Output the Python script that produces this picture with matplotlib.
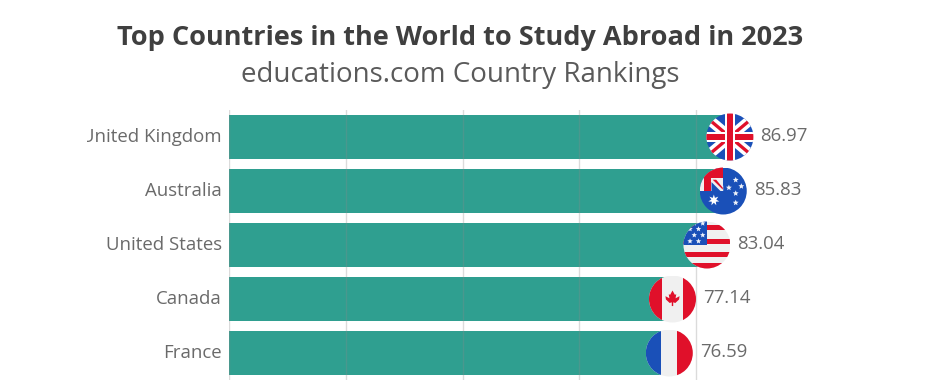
import matplotlib
matplotlib.use('Agg')
import matplotlib.pyplot as plt
from matplotlib.patches import Circle, Rectangle, Polygon
from matplotlib.transforms import Affine2D, Bbox
import numpy as np

countries = ['United Kingdom', 'Australia', 'United States', 'Canada', 'France']
scores = [86.97, 85.83, 83.04, 77.14, 76.59]
x_ticks = [0, 20, 40, 60, 80]

W, H = 945, 388
LEFT, RIGHT, TOP, BOTTOM = 229, 754.6, 110, 380
R = 23.5
RED = '#e0102a'
BLUE = '#1a50b8'
LIGHT = '#f0f0f0'

plt.rcParams['font.family'] = ['Open Sans', 'DejaVu Sans']


# Adds one shape of a flag, in units of the flag radius
def add_part(ax, t, clip, patch):
    patch.set_transform(t)
    patch.set_clip_path(clip)
    patch.set_zorder(5)
    patch.set_linewidth(0)
    ax.add_patch(patch)


def cross_bar(ax, t, clip, angle, width, color):
    rot = Affine2D().rotate_deg(angle) + t
    add_part(ax, rot, clip, Rectangle((-1.5, -width / 2), 3, width, color=color))


def star(cx, cy, r, n=5):
    pts = []
    for k in range(2 * n):
        rr = r if k % 2 == 0 else r * 0.45
        a = np.pi / 2 + k * np.pi / n
        pts.append((cx + rr * np.cos(a), cy + rr * np.sin(a)))
    return pts


def flag_uk(ax, t, clip):
    add_part(ax, t, clip, Rectangle((-1, -1), 2, 2, color=BLUE))
    for a in [40, -40]:
        cross_bar(ax, t, clip, a, 0.44, 'white')
        cross_bar(ax, t, clip, a, 0.14, RED)
    for a in [0, 90]:
        cross_bar(ax, t, clip, a, 0.40, 'white')
        cross_bar(ax, t, clip, a, 0.27, RED)


def flag_au(ax, t, clip):
    add_part(ax, t, clip, Rectangle((-1, -1), 2, 2, color=BLUE))
    # canton
    add_part(ax, t, clip, Rectangle((-1, 0), 1, 1, color=LIGHT))
    add_part(ax, t, clip, Rectangle((-1, 0.55), 1, 0.5, color=RED))
    add_part(ax, t, clip, Rectangle((-0.8, 0), 0.3, 1, color=RED))
    add_part(ax, t, clip, Polygon([(-0.5, 0.55), (-0.25, 0.55), (0, 0.22), (0, 0)], color=LIGHT))
    add_part(ax, t, clip, Polygon([(-0.45, 0.48), (-0.3, 0.48), (-0.02, 0.14), (-0.02, 0.06)], color=RED))
    add_part(ax, t, clip, Polygon([(-0.5, 0), (-0.5, 0.38), (-0.12, 0)], color=BLUE))
    add_part(ax, t, clip, Polygon(star(-0.4, -0.39, 0.24, 7), color='white'))
    for sx, sy in [(0.53, 0.47), (0.77, 0.2), (0.24, 0.14), (0.53, -0.1), (0.53, -0.5)]:
        add_part(ax, t, clip, Polygon(star(sx, sy, 0.13, 5), color='#eef2fa'))


def flag_us(ax, t, clip):
    add_part(ax, t, clip, Rectangle((-1, -1), 2, 2, color=LIGHT))
    for yc in [0.76, 0.16, -0.39, -0.89]:
        add_part(ax, t, clip, Rectangle((-1, yc - 0.11), 2, 0.22, color=RED))
    add_part(ax, t, clip, Rectangle((-1, -0.02), 1.0, 1.05, color=BLUE))
    for sx, sy in [(-0.72, 0.16), (-0.36, 0.16), (-0.54, 0.42), (-0.18, 0.42),
                   (-0.72, 0.68), (-0.36, 0.68), (-0.54, 0.92), (-0.18, 0.92)]:
        add_part(ax, t, clip, Polygon(star(sx, sy, 0.12, 5), color='#eef2fa'))


def flag_ca(ax, t, clip):
    add_part(ax, t, clip, Rectangle((-1, -1), 2, 2, color=LIGHT))
    add_part(ax, t, clip, Rectangle((-1, -1), 0.57, 2, color=RED))
    add_part(ax, t, clip, Rectangle((0.45, -1), 0.55, 2, color=RED))
    leaf = [(0, 0.36), (0.1, 0.18), (0.16, 0.2), (0.13, 0.03), (0.3, 0.12), (0.28, -0.02),
            (0.12, -0.17), (0.03, -0.14), (0.03, -0.3), (-0.03, -0.3), (-0.03, -0.14),
            (-0.12, -0.17), (-0.28, -0.02), (-0.3, 0.12), (-0.13, 0.03), (-0.16, 0.2), (-0.1, 0.18)]
    add_part(ax, t, clip, Polygon(leaf, color=RED))


def flag_fr(ax, t, clip):
    add_part(ax, t, clip, Rectangle((-1, -1), 2, 2, color=LIGHT))
    add_part(ax, t, clip, Rectangle((-1, -1), 0.66, 2, color=BLUE))
    add_part(ax, t, clip, Rectangle((0.34, -1), 0.66, 2, color=RED))


flag_funcs = [flag_uk, flag_au, flag_us, flag_ca, flag_fr]

fig = plt.figure(figsize=(W / 100, H / 100), dpi=100)
ax = fig.add_axes([LEFT / W, 1 - BOTTOM / H, (RIGHT - LEFT) / W, (BOTTOM - TOP) / H])

y = np.arange(len(countries))
ax.barh(y, scores, height=0.825, color='#2f9f90', zorder=2)
ax.set_xlim(0, 90)
ax.set_ylim(4.5, -0.5)

for xt in x_ticks:
    ax.axvline(xt, color='#8a8a8a', alpha=0.3, linewidth=1, zorder=3)

for s in ax.spines.values():
    s.set_visible(False)
ax.set_xticks([])
ax.set_yticks(y, countries)
ax.tick_params(axis='y', length=0, pad=5, labelsize=13.4, labelcolor='#6a6a6a')

# the longest label is cut off on the left, as in the reference
clip_box = Bbox([[87, 0], [W, H]])
for lab in ax.get_yticklabels():
    lab.set_clip_box(clip_box)
    lab.set_clip_on(True)
    lab.set_transform(lab.get_transform() + Affine2D().translate(0, 1.5))

fig.canvas.draw()
for i, (v, draw_flag) in enumerate(zip(scores, flag_funcs)):
    cx, cy = ax.transData.transform((v, i))
    t = Affine2D().scale(R).translate(cx - 7, cy)
    clip = Circle((0, 0), 1, transform=t)
    draw_flag(ax, t, clip)
    ax.annotate(f'{v:.2f}', (v, i), xytext=(17, 0.5), textcoords='offset points',
                va='center', ha='left', fontsize=13.4, color='#6a6a6a', zorder=6, annotation_clip=False)

fig.text(460 / W, 1 - 38 / H, 'Top Countries in the World to Study Abroad in 2023',
         ha='center', va='center', fontsize=19.5, fontweight='bold', color='#3f3f3f')
fig.text(460 / W, 1 - 75 / H, 'educations.com Country Rankings',
         ha='center', va='center', fontsize=20, color='#5a5a5a')

fig.savefig('out.png', dpi=100, facecolor='white')
